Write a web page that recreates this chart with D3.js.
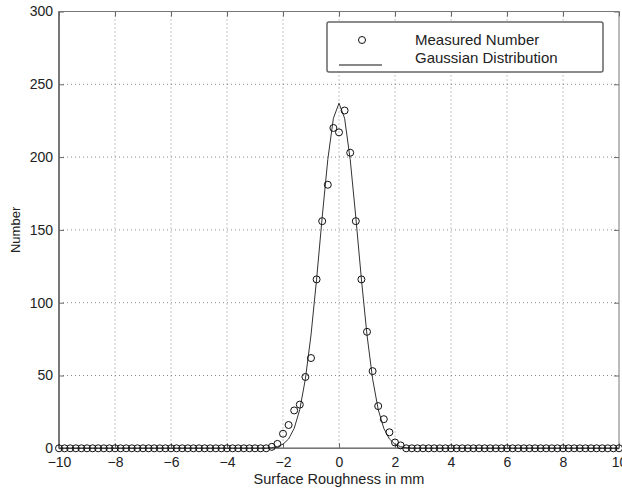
<!DOCTYPE html>
<html>
<head>
<meta charset="utf-8">
<script src="https://cdn.jsdelivr.net/npm/d3@7"></script>
<style>
  body { margin: 0; background: #fff; }
  svg text { font-family: 'Liberation Sans', Arial, Helvetica, sans-serif; fill: #222; }
  .grid line { stroke: #8a8a8a; stroke-width: 1; stroke-dasharray: 1,3; }
  .box { fill: none; stroke: #777; stroke-width: 1; }
</style>
</head>
<body>
<div id="chart"></div>
<script>
// surface roughness bins in mm
const roughness = [
  -10, -9.8, -9.6, -9.4, -9.2, -9, -8.8, -8.6, -8.4, -8.2,
  -8, -7.8, -7.6, -7.4, -7.2, -7, -6.8, -6.6, -6.4, -6.2,
  -6, -5.8, -5.6, -5.4, -5.2, -5, -4.8, -4.6, -4.4, -4.2,
  -4, -3.8, -3.6, -3.4, -3.2, -3, -2.8, -2.6, -2.4, -2.2,
  -2, -1.8, -1.6, -1.4, -1.2, -1, -0.8, -0.6, -0.4, -0.2,
  0,
  0.2, 0.4, 0.6, 0.8, 1, 1.2, 1.4, 1.6, 1.8, 2,
  2.2, 2.4, 2.6, 2.8, 3, 3.2, 3.4, 3.6, 3.8, 4,
  4.2, 4.4, 4.6, 4.8, 5, 5.2, 5.4, 5.6, 5.8, 6,
  6.2, 6.4, 6.6, 6.8, 7, 7.2, 7.4, 7.6, 7.8, 8,
  8.2, 8.4, 8.6, 8.8, 9, 9.2, 9.4, 9.6, 9.8, 10
];

// measured number per bin
const measured = [
  0, 0, 0, 0, 0, 0, 0, 0, 0, 0,
  0, 0, 0, 0, 0, 0, 0, 0, 0, 0,
  0, 0, 0, 0, 0, 0, 0, 0, 0, 0,
  0, 0, 0, 0, 0, 0, 0, 0, 1, 3,
  10, 16, 26, 30, 49, 62, 116, 156, 181, 220,
  217,
  232, 203, 156, 116, 80, 53, 29, 20, 11, 4,
  2, 0, 0, 0, 0, 0, 0, 0, 0, 0,
  0, 0, 0, 0, 0, 0, 0, 0, 0, 0,
  0, 0, 0, 0, 0, 0, 0, 0, 0, 0,
  0, 0, 0, 0, 0, 0, 0, 0, 0, 0
];

// fitted gaussian
const gaussian = [
  0, 0, 0, 0, 0, 0, 0, 0, 0, 0,
  0, 0, 0, 0, 0, 0, 0, 0, 0, 0,
  0, 0, 0, 0, 0, 0, 0, 0, 0, 0,
  0, 0, 0, 0, 0, 0, 0, 0, 0.4, 1.1,
  2.8, 6.4, 13.7, 26.7, 47.7, 77.8, 116.2, 158.8, 198.4, 226.7,
  237,
  226.7, 198.4, 158.8, 116.2, 77.8, 47.7, 26.7, 13.7, 6.4, 2.8,
  1.1, 0.4, 0, 0, 0, 0, 0, 0, 0, 0,
  0, 0, 0, 0, 0, 0, 0, 0, 0, 0,
  0, 0, 0, 0, 0, 0, 0, 0, 0, 0,
  0, 0, 0, 0, 0, 0, 0, 0, 0, 0
];

const xTicks = [-10, -8, -6, -4, -2, 0, 2, 4, 6, 8, 10];
const yTicks = [0, 50, 100, 150, 200, 250, 300];
const legendLabels = ['Measured Number', 'Gaussian Distribution'];

const W = 622, H = 488;
const m = {left: 59, right: 3, top: 11.5, bottom: 39.7};
const iw = W - m.left - m.right;
const ih = H - m.top - m.bottom;

const svg = d3.select('#chart')
  .append('svg')
  .attr('width', W)
  .attr('height', H);

const g = svg.append('g')
  .attr('transform', 'translate(' + m.left + ',' + m.top + ')');

const x = d3.scaleLinear().domain([-10, 10]).range([0, iw]);
const y = d3.scaleLinear().domain([0, 300]).range([ih, 0]);

// dotted grid
const grid = g.append('g').attr('class', 'grid');
grid.selectAll('.gx')
  .data(xTicks.slice(1, -1))
  .join('line')
  .attr('x1', d => x(d)).attr('x2', d => x(d))
  .attr('y1', 0).attr('y2', ih);
grid.selectAll('.gy')
  .data(yTicks.slice(1, -1))
  .join('line')
  .attr('x1', 0).attr('x2', iw)
  .attr('y1', d => y(d)).attr('y2', d => y(d));

// axes, ticks pointing inwards like matlab
const fmt = d => (d < 0 ? '\u2212' + Math.abs(d) : String(d));

const xAxis = g.append('g')
  .attr('transform', 'translate(0,' + ih + ')')
  .call(d3.axisBottom(x).tickValues(xTicks).tickSize(-5).tickPadding(9).tickFormat(fmt));
const yAxis = g.append('g')
  .call(d3.axisLeft(y).tickValues(yTicks).tickSize(-5).tickPadding(6));
const topAxis = g.append('g')
  .call(d3.axisTop(x).tickValues(xTicks).tickSize(-5).tickFormat(''));
const rightAxis = g.append('g')
  .attr('transform', 'translate(' + iw + ',0)')
  .call(d3.axisRight(y).tickValues(yTicks).tickSize(-5).tickFormat(''));

[xAxis, yAxis, topAxis, rightAxis].forEach(a => {
  a.select('.domain').remove();
  a.selectAll('line').attr('stroke', '#666');
  a.selectAll('text').attr('font-size', 14).attr('fill', '#222');
});

g.append('rect')
  .attr('class', 'box')
  .attr('width', iw)
  .attr('height', ih);
g.append('line')
  .attr('x1', 0).attr('x2', 0).attr('y1', 0).attr('y2', ih)
  .attr('stroke', '#666').attr('stroke-width', 1.6);
g.append('line')
  .attr('x1', 0).attr('x2', iw).attr('y1', ih).attr('y2', ih)
  .attr('stroke', '#777').attr('stroke-width', 1.6);

// gaussian curve
const pts = roughness.map((r, i) => ({r: r, m: measured[i], gs: gaussian[i]}));

g.append('path')
  .datum(pts)
  .attr('fill', 'none')
  .attr('stroke', '#333')
  .attr('stroke-width', 1)
  .attr('d', d3.line().x(d => x(d.r)).y(d => y(d.gs)));

// measured points
g.selectAll('.pt')
  .data(pts)
  .join('circle')
  .attr('class', 'pt')
  .attr('cx', d => x(d.r))
  .attr('cy', d => y(d.m))
  .attr('r', 3.5)
  .attr('fill', 'none')
  .attr('stroke', '#111')
  .attr('stroke-width', 1);

// axis labels
svg.append('text')
  .attr('x', x(0) + m.left)
  .attr('y', 484)
  .attr('text-anchor', 'middle')
  .attr('font-size', 14.5)
  .text('Surface Roughness in mm');

svg.append('text')
  .attr('transform', 'translate(20,' + (m.top + ih / 2) + ') rotate(-90)')
  .attr('text-anchor', 'middle')
  .attr('font-size', 13)
  .text('Number');

// legend
const lg = svg.append('g').attr('transform', 'translate(327,22)');
lg.append('rect')
  .attr('width', 276)
  .attr('height', 50)
  .attr('rx', 2)
  .attr('fill', '#fff')
  .attr('stroke', '#666')
  .attr('stroke-width', 1.5);
lg.append('circle')
  .attr('cx', 35).attr('cy', 18).attr('r', 3.5)
  .attr('fill', 'none').attr('stroke', '#111');
lg.append('line')
  .attr('x1', 12).attr('x2', 55).attr('y1', 43).attr('y2', 43)
  .attr('stroke', '#888').attr('stroke-width', 2);
lg.selectAll('.lt')
  .data(legendLabels)
  .join('text')
  .attr('x', 88)
  .attr('y', (d, i) => 23 + i * 18)
  .attr('font-size', 15)
  .text(d => d);
</script>
</body>
</html>
